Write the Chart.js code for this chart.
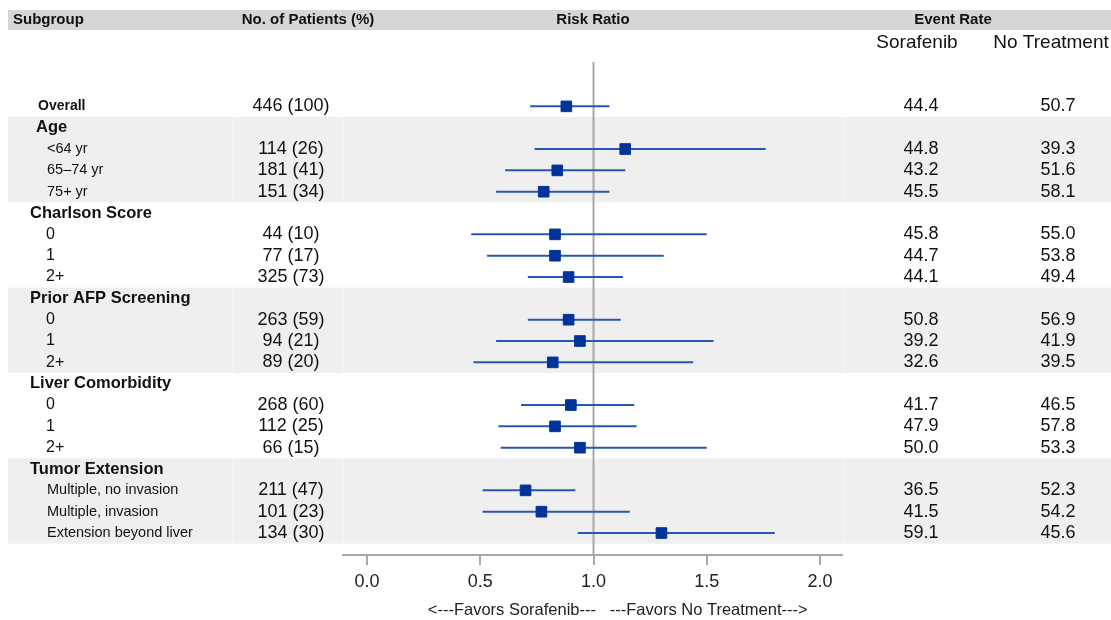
<!DOCTYPE html>
<html>
<head>
<meta charset="utf-8">
<script src="https://cdn.jsdelivr.net/npm/chart.js@4.4.1/dist/chart.umd.min.js"></script>
<style>
  html, body { margin: 0; padding: 0; background: #fff; }
  #wrap { width: 1111px; height: 620px; }
</style>
</head>
<body>
<div id="wrap"><canvas id="forest" width="1111" height="620"></canvas></div>
<script>
// rows, top to bottom
var subgroups = ['Overall', 'Age', '<64 yr', '65\u201374 yr', '75+ yr',
  'Charlson Score', '0', '1', '2+',
  'Prior AFP Screening', '0', '1', '2+',
  'Liver Comorbidity', '0', '1', '2+',
  'Tumor Extension', 'Multiple, no invasion', 'Multiple, invasion', 'Extension beyond liver'];
var rowType = ['overall', 'group', 'small', 'small', 'small',
  'group', 'level', 'level', 'level',
  'group', 'level', 'level', 'level',
  'group', 'level', 'level', 'level',
  'group', 'small', 'small', 'small'];
var patients = ['446 (100)', '', '114 (26)', '181 (41)', '151 (34)',
  '', '44 (10)', '77 (17)', '325 (73)',
  '', '263 (59)', '94 (21)', '89 (20)',
  '', '268 (60)', '112 (25)', '66 (15)',
  '', '211 (47)', '101 (23)', '134 (30)'];
var riskRatio = [0.88, null, 1.14, 0.84, 0.78, null, 0.83, 0.83, 0.89, null, 0.89, 0.94, 0.82,
  null, 0.90, 0.83, 0.94, null, 0.70, 0.77, 1.30];
var ciLow = [0.72, null, 0.74, 0.61, 0.57, null, 0.46, 0.53, 0.71, null, 0.71, 0.57, 0.47,
  null, 0.68, 0.58, 0.59, null, 0.51, 0.51, 0.93];
var ciHigh = [1.07, null, 1.76, 1.14, 1.07, null, 1.50, 1.31, 1.13, null, 1.12, 1.53, 1.44,
  null, 1.18, 1.19, 1.50, null, 0.92, 1.16, 1.80];
var rateSorafenib = [44.4, null, 44.8, 43.2, 45.5, null, 45.8, 44.7, 44.1, null, 50.8, 39.2, 32.6,
  null, 41.7, 47.9, 50.0, null, 36.5, 41.5, 59.1];
var rateNoTreatment = [50.7, null, 39.3, 51.6, 58.1, null, 55.0, 53.8, 49.4, null, 56.9, 41.9, 39.5,
  null, 46.5, 57.8, 53.3, null, 52.3, 54.2, 45.6];
var xTicks = [0, 0.5, 1, 1.5, 2];
var shadedGroups = [[1, 4], [9, 12], [17, 20]];

var FONT = '"Liberation Sans", Arial, sans-serif';
Chart.defaults.font.family = FONT;

var Y_MIN = -2.08, Y_MAX = 21.03;

var datasets = [];
// reference line at RR = 1
datasets.push({
  data: [{x: 1, y: Y_MIN}, {x: 1, y: Y_MAX}],
  showLine: true, borderColor: '#a8a8a8', borderWidth: 2, pointRadius: 0, order: 3
});
// confidence intervals
for (var i = 0; i < subgroups.length; i++) {
  if (riskRatio[i] == null) continue;
  datasets.push({
    data: [{x: ciLow[i], y: i}, {x: ciHigh[i], y: i}],
    showLine: true, borderColor: '#2557b8', borderWidth: 2, pointRadius: 0, order: 2
  });
}
// point estimates
var pts = [];
for (var j = 0; j < subgroups.length; j++) {
  if (riskRatio[j] != null) pts.push({x: riskRatio[j], y: j});
}
datasets.push({
  data: pts, pointStyle: 'rect', pointRadius: 7.5,
  backgroundColor: '#003399', borderColor: '#003399', borderWidth: 1, order: 1
});

var tablePlugin = {
  id: 'forestTable',
  beforeDraw: function (chart) {
    var ctx = chart.ctx, ys = chart.scales.y;
    ctx.save();
    ctx.fillStyle = '#fff';
    ctx.fillRect(0, 0, chart.width, chart.height);
    ctx.fillStyle = '#d6d6d6';
    ctx.fillRect(8, 10, chart.width - 8, 20);
    shadedGroups.forEach(function (g) {
      var top = ys.getPixelForValue(g[0] - 0.5);
      var bot = ys.getPixelForValue(g[1] + 0.5);
      ctx.fillStyle = '#efefef';
      ctx.fillRect(8, top, chart.width - 8, bot - top);
      ctx.fillStyle = '#f6f6f6';
      [232, 343, 843].forEach(function (x) { ctx.fillRect(x, top, 1, bot - top); });
    });
    ctx.restore();
  },
  afterDraw: function (chart) {
    var ctx = chart.ctx, ys = chart.scales.y;
    ctx.save();
    ctx.fillStyle = '#111';
    ctx.textBaseline = 'middle';
    // header bar
    ctx.font = 'bold 15px ' + FONT;
    ctx.textAlign = 'left';
    ctx.fillText('Subgroup', 13, 20);
    ctx.textAlign = 'center';
    ctx.fillText('No. of Patients (%)', 308, 20);
    ctx.fillText('Risk Ratio', 593, 20);
    ctx.fillText('Event Rate', 953, 20);
    ctx.font = '19px ' + FONT;
    ctx.fillText('Sorafenib', 917, 43);
    ctx.fillText('No Treatment', 1051, 43);
    // rows
    for (var i = 0; i < subgroups.length; i++) {
      var y = ys.getPixelForValue(i);
      var t = rowType[i];
      ctx.textAlign = 'left';
      if (t === 'overall') { ctx.font = 'bold 14px ' + FONT; ctx.fillText(subgroups[i], 38, y); }
      else if (t === 'group') { ctx.font = 'bold 16.5px ' + FONT; ctx.fillText(subgroups[i], i === 1 ? 36 : 30, y); }
      else if (t === 'small') { ctx.font = '14.5px ' + FONT; ctx.fillText(subgroups[i], 47, y); }
      else { ctx.font = '16px ' + FONT; ctx.fillText(subgroups[i], 46, y); }
      ctx.textAlign = 'center';
      ctx.font = '18px ' + FONT;
      if (patients[i]) ctx.fillText(patients[i], 291, y);
      if (rateSorafenib[i] != null) ctx.fillText(rateSorafenib[i].toFixed(1), 921, y);
      if (rateNoTreatment[i] != null) ctx.fillText(rateNoTreatment[i].toFixed(1), 1058, y);
    }
    ctx.restore();
  }
};

new Chart(document.getElementById('forest'), {
  type: 'scatter',
  data: { datasets: datasets },
  plugins: [tablePlugin],
  options: {
    responsive: false,
    devicePixelRatio: 1,
    animation: false,
    layout: { padding: { left: 343, right: 269, top: 62, bottom: 0 } },
    plugins: { legend: { display: false }, tooltip: { enabled: false } },
    scales: {
      x: {
        type: 'linear', min: -0.106, max: 2.097,
        afterBuildTicks: function (s) { s.ticks = xTicks.map(function (v) { return {value: v}; }); },
        afterFit: function (s) { s.height = 65; },
        grid: { drawOnChartArea: false, drawTicks: true, tickLength: 10, color: '#a8a8a8', lineWidth: 2 },
        border: { display: true, color: '#a8a8a8', width: 2 },
        ticks: { padding: 6, color: '#222', font: { size: 18 },
          callback: function (v) { return Number(v).toFixed(1); } },
        title: { display: true,
          text: '           <---Favors Sorafenib---   ---Favors No Treatment--->',
          color: '#222', font: { size: 16.5 }, padding: { top: 4, bottom: 0 } }
      },
      y: { type: 'linear', display: false, reverse: true, min: Y_MIN, max: Y_MAX }
    }
  }
});
</script>
</body>
</html>
